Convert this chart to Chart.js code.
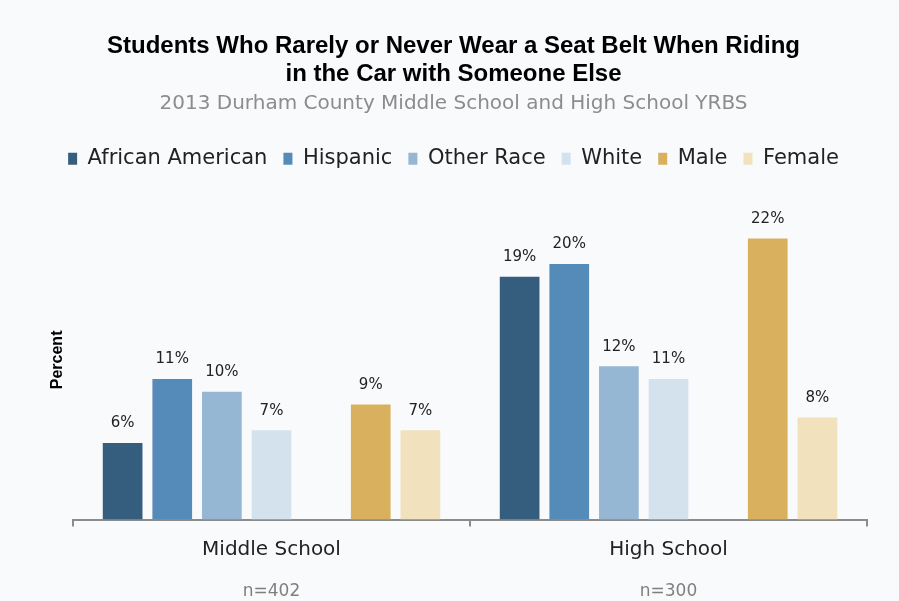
<!DOCTYPE html>
<html>
<head>
<meta charset="utf-8">
<script src="https://cdn.jsdelivr.net/npm/chart.js"></script>
<style>
  html, body { margin: 0; padding: 0; background: #f9fafc; }
  #wrap { width: 899px; height: 601px; }
</style>
</head>
<body>
<div id="wrap"><canvas id="seatBeltChart" width="899" height="601"></canvas></div>
<script>
// school levels on the x axis, sample sizes shown underneath
const schools = ['Middle School', 'High School'];
const sampleSizes = ['n=402', 'n=300'];

// percent of students per group
const africanAmerican = [6, 19];
const hispanic = [11, 20];
const otherRace = [10, 12];
const white = [7, 11];
const male = [9, 22];
const female = [7, 8];

const groupNames = ['African American', 'Hispanic', 'Other Race', 'White', '', 'Male', 'Female'];
const groupValues = [africanAmerican, hispanic, otherRace, white, [null, null], male, female];
const groupColors = ['#345d7e', '#558bb9', '#96b7d4', '#d4e2ee', 'rgba(0,0,0,0)', '#d9b15e', '#f1e1bd'];

const sans = "'DejaVu Sans', sans-serif";
const boldSans = "'Liberation Sans', Arial, sans-serif";

// page-coloured background behind everything
const canvasBackground = {
    id: 'canvasBackground',
    beforeDraw(chart) {
        const { ctx, width, height } = chart;
        ctx.save();
        ctx.fillStyle = '#f9fafc';
        ctx.fillRect(0, 0, width, height);
        ctx.restore();
    }
};

// extra room between the legend and the bars
const legendGap = {
    id: 'legendGap',
    afterInit(chart) {
        const legend = chart.legend;
        if (!legend || legend._gapPatched) return;
        const fit = legend.fit;
        legend.fit = function () {
            fit.call(this);
            this.height += 21;
        };
        legend._gapPatched = true;
    }
};

// percent labels above every bar
const barValueLabels = {
    id: 'barValueLabels',
    afterDatasetsDraw(chart) {
        const { ctx } = chart;
        ctx.save();
        ctx.font = "15px " + sans;
        ctx.fillStyle = '#222222';
        ctx.textAlign = 'center';
        ctx.textBaseline = 'bottom';
        chart.data.datasets.forEach((ds, i) => {
            if (!ds.label) return;
            chart.getDatasetMeta(i).data.forEach((bar, j) => {
                const v = ds.data[j];
                if (v == null) return;
                ctx.fillText(v + '%', bar.x, bar.y - 12);
            });
        });
        ctx.restore();
    }
};

new Chart(document.getElementById('seatBeltChart'), {
    type: 'bar',
    data: {
        labels: schools,
        datasets: groupNames.map((name, i) => ({
            label: name,
            data: groupValues[i],
            backgroundColor: groupColors[i],
            barPercentage: 0.8,
            categoryPercentage: 0.875
        }))
    },
    options: {
        responsive: false,
        animation: false,
        layout: { padding: { left: 40, right: 32, top: 21, bottom: -10 } },
        scales: {
            x: {
                grid: { drawOnChartArea: false, drawTicks: true, tickLength: 7, color: '#8c8c8c', lineWidth: 2 },
                border: { color: '#8c8c8c', width: 2 },
                ticks: { color: '#222222', font: { family: sans, size: 20 }, padding: 11 }
            },
            x2: {
                type: 'category',
                position: 'bottom',
                labels: sampleSizes,
                grid: { display: false, drawTicks: false },
                border: { display: false },
                ticks: { color: '#7f7f7f', font: { family: sans, size: 17 }, padding: 9 }
            },
            y: {
                min: 0,
                max: 25,
                grid: { display: false },
                border: { display: false },
                ticks: { display: false },
                title: {
                    display: true,
                    text: 'Percent',
                    color: '#000000',
                    font: { family: boldSans, size: 16, weight: 'bold' },
                    padding: { top: 8, bottom: 0 }
                },
                afterFit(scale) {
                    scale.width = 33;
                }
            }
        },
        plugins: {
            title: {
                display: true,
                text: ['Students Who Rarely or Never Wear a Seat Belt When Riding', 'in the Car with Someone Else'],
                color: '#000000',
                font: { family: boldSans, size: 24, weight: 'bold', lineHeight: 1.17 },
                padding: { top: 11, bottom: 4 }
            },
            subtitle: {
                display: true,
                text: '2013 Durham County Middle School and High School YRBS',
                color: '#8c8c8c',
                font: { family: sans, size: 20 },
                padding: { top: 0, bottom: 16 }
            },
            legend: {
                position: 'top',
                labels: {
                    filter: item => item.text !== '',
                    color: '#222222',
                    font: { family: sans, size: 21 },
                    boxWidth: 9,
                    boxHeight: 12,
                    padding: 16
                }
            },
            tooltip: { enabled: false }
        }
    },
    plugins: [canvasBackground, legendGap, barValueLabels]
});
</script>
</body>
</html>
